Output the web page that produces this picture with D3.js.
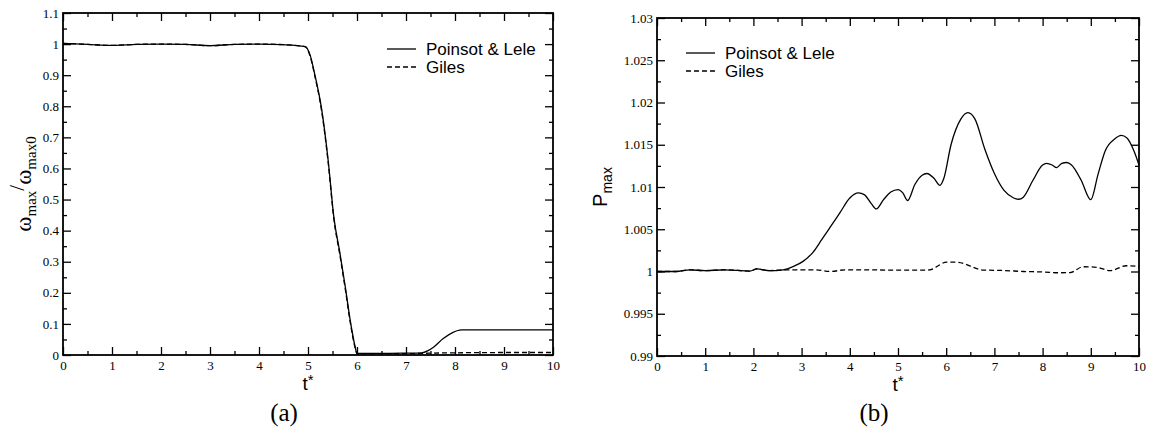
<!DOCTYPE html>
<html><head><meta charset="utf-8">
<script src="https://cdn.jsdelivr.net/npm/d3@7"></script>
<style>
html,body{margin:0;padding:0;background:#fff;}
svg{display:block;}
</style></head>
<body>
<svg id="chart" width="1152" height="439"></svg>
<script>
// ---------- data ----------
const seriesNames = ["Poinsot & Lele", "Giles"];

// Panel (a): omega_max / omega_max0 vs t*
const tA_PL = [0,0.5,1,1.5,2,2.5,3,3.5,4,4.5,4.94,5.04,5.14,5.28,5.41,5.53,5.65,5.76,5.86,5.96,6.0,6.5,7.0,7.32,7.45,7.56,7.76,7.96,8.13,9,10];
const wA_PL = [1.002,0.999,0.996,0.999,1.0,0.999,0.995,0.999,1.0,0.998,0.992,0.966,0.901,0.789,0.628,0.44,0.329,0.22,0.113,0.028,0.005,0.005,0.006,0.007,0.014,0.025,0.053,0.073,0.081,0.081,0.081];
const tA_G  = [0,0.5,1,1.5,2,2.5,3,3.5,4,4.5,4.94,5.04,5.14,5.28,5.41,5.53,5.65,5.76,5.86,5.96,6.0,6.5,7.0,7.5,8,9,10];
const wA_G  = [1.002,0.999,0.996,0.999,1.0,0.999,0.995,0.999,1.0,0.998,0.992,0.963,0.897,0.783,0.622,0.435,0.322,0.213,0.107,0.024,0.004,0.004,0.004,0.006,0.007,0.008,0.008];

// Panel (b): P_max vs t*
const tB_PL = [0,0.4,0.68,1.0,1.4,1.93,2.07,2.34,2.62,2.83,3.03,3.24,3.41,3.6,3.8,4.0,4.18,4.3,4.45,4.55,4.7,4.85,5.0,5.1,5.2,5.35,5.5,5.6,5.75,5.87,5.95,6.1,6.3,6.45,6.6,6.8,7.0,7.2,7.4,7.5,7.6,7.8,8.0,8.08,8.2,8.29,8.4,8.5,8.6,8.8,9.0,9.15,9.3,9.5,9.63,9.75,9.9,10];
const pB_PL = [1.0,1.0,1.0002,1.0001,1.0002,1.00005,1.0003,1.0001,1.0002,1.0006,1.0012,1.0023,1.0037,1.0053,1.007,1.0087,1.0093,1.0091,1.0080,1.0074,1.0085,1.0094,1.0097,1.0093,1.0084,1.0103,1.0114,1.0116,1.0110,1.0102,1.0110,1.0150,1.0180,1.0188,1.0180,1.0145,1.0116,1.0096,1.0087,1.00855,1.0088,1.0108,1.0126,1.0128,1.0126,1.0123,1.0128,1.0129,1.0126,1.0108,1.0085,1.0115,1.0143,1.0157,1.0161,1.0158,1.0142,1.0126];
const tB_G  = [0,0.4,0.68,1.0,1.4,1.93,2.07,2.34,2.62,3.0,3.3,3.6,3.9,4.3,4.83,5.3,5.58,5.66,6.01,6.22,6.77,7.2,7.6,8.0,8.36,8.57,8.84,9.12,9.4,9.74,10];
const pB_G  = [1.0,1.0,1.0002,1.0001,1.0002,1.00005,1.0003,1.0001,1.0002,1.0002,1.0002,1.0000,1.0002,1.0002,1.00017,1.00017,1.00017,1.0002,1.0011,1.0011,1.00017,1.00012,1.0,0.99995,0.99985,0.99987,1.00056,1.0005,1.0001,1.00068,1.0006];

// ticks
const xTicks = [0,1,2,3,4,5,6,7,8,9,10];
const yTicksA = [0,0.1,0.2,0.3,0.4,0.5,0.6,0.7,0.8,0.9,1,1.1];
const yTicksB = [0.99,0.995,1,1.005,1.01,1.015,1.02,1.025,1.03];
const panelLabels = ["(a)", "(b)"];

// ---------- drawing ----------
const svg = d3.select("#chart");

function midpoints(arr){ const m=[]; for(let i=0;i<arr.length-1;i++) m.push((arr[i]+arr[i+1])/2); return m; }

function drawPanel(cfg){
  const {left, right, top, bottom} = cfg.box;
  const x = d3.scaleLinear().domain([0,10]).range([left,right]);
  const y = d3.scaleLinear().domain(cfg.yDomain).range([bottom,top]);
  const g = svg.append("g");
  const fmt = d => String(+d.toFixed(4));
  const minorX = midpoints(xTicks), minorY = midpoints(cfg.yTicks);
  const tickFont = "'Liberation Serif','Times New Roman',serif";

  function styleAxis(sel){
    sel.select(".domain").remove();
    sel.selectAll(".tick line").attr("stroke","#000").attr("stroke-width",1.3);
    sel.selectAll("text").attr("font-family",tickFont).attr("font-size",13).attr("fill","#000");
  }
  // bottom
  g.append("g").attr("transform",`translate(0,${bottom})`)
    .call(d3.axisBottom(x).tickValues(xTicks).tickSize(-8).tickPadding(6).tickFormat(fmt)).call(styleAxis);
  g.append("g").attr("transform",`translate(0,${bottom})`)
    .call(d3.axisBottom(x).tickValues(minorX).tickSize(-4).tickFormat("")).call(styleAxis);
  // top
  g.append("g").attr("transform",`translate(0,${top})`)
    .call(d3.axisTop(x).tickValues(xTicks).tickSize(-8).tickFormat("")).call(styleAxis);
  g.append("g").attr("transform",`translate(0,${top})`)
    .call(d3.axisTop(x).tickValues(minorX).tickSize(-4).tickFormat("")).call(styleAxis);
  // left
  g.append("g").attr("transform",`translate(${left},0)`)
    .call(d3.axisLeft(y).tickValues(cfg.yTicks).tickSize(-8).tickPadding(4).tickFormat(fmt)).call(styleAxis);
  g.append("g").attr("transform",`translate(${left},0)`)
    .call(d3.axisLeft(y).tickValues(minorY).tickSize(-4).tickFormat("")).call(styleAxis);
  // right
  g.append("g").attr("transform",`translate(${right},0)`)
    .call(d3.axisRight(y).tickValues(cfg.yTicks).tickSize(-8).tickFormat("")).call(styleAxis);
  g.append("g").attr("transform",`translate(${right},0)`)
    .call(d3.axisRight(y).tickValues(minorY).tickSize(-4).tickFormat("")).call(styleAxis);

  // frame
  g.append("rect").attr("x",left).attr("y",top).attr("width",right-left).attr("height",bottom-top)
    .attr("fill","none").attr("stroke","#000").attr("stroke-width",1.8);

  // lines
  const line = d3.line().x(d=>x(d[0])).y(d=>y(d[1])).curve(d3.curveMonotoneX);
  cfg.series.forEach((s,i)=>{
    const pts = s.t.map((t,k)=>[t,s.v[k]]);
    g.append("path").datum(pts).attr("d",line).attr("fill","none")
      .attr("stroke","#000").attr("stroke-width",1.3)
      .attr("stroke-dasharray", i===1 ? "5,3" : null);
  });

  // legend
  const lg = g.append("g");
  seriesNames.forEach((name,i)=>{
    const yy = cfg.legend.y + i*18;
    lg.append("line").attr("x1",cfg.legend.x).attr("x2",cfg.legend.x+29).attr("y1",yy).attr("y2",yy)
      .attr("stroke","#000").attr("stroke-width",1.3).attr("stroke-dasharray", i===1 ? "5,3" : null);
    lg.append("text").attr("x",cfg.legend.x+39).attr("y",yy+6)
      .attr("font-family","'Liberation Sans',Arial,sans-serif").attr("font-size",17).text(name);
  });

  // x title
  const xt = g.append("text").attr("x",(left+right)/2).attr("y",bottom+35).attr("text-anchor","middle")
    .attr("font-family","'Liberation Sans',Arial,sans-serif").attr("font-size",19);
  xt.append("tspan").text("t");
  xt.append("tspan").attr("dy",-5).attr("font-size",15).text("*");

  // panel label
  g.append("text").attr("x",(left+right)/2 - 24).attr("y",421).attr("text-anchor","middle")
    .attr("font-family","'Liberation Serif','Times New Roman',serif").attr("font-size",25).text(cfg.label);

  return g;
}

const gA = drawPanel({
  box:{left:63,right:553,top:13,bottom:355},
  yDomain:[0,1.1], yTicks:yTicksA,
  series:[{t:tA_PL,v:wA_PL},{t:tA_G,v:wA_G}],
  legend:{x:387,y:49}, label:panelLabels[0]
});
const gB = drawPanel({
  box:{left:657,right:1139,top:18,bottom:356},
  yDomain:[0.99,1.03], yTicks:yTicksB,
  series:[{t:tB_PL,v:pB_PL},{t:tB_G,v:pB_G}],
  legend:{x:686,y:53}, label:panelLabels[1]
});

// y titles
const yA = gA.append("text").attr("transform","translate(31,184) rotate(-90)").attr("text-anchor","middle")
  .attr("font-family","'Liberation Serif','Times New Roman',serif").attr("font-size",23);
yA.append("tspan").text("ω");
yA.append("tspan").attr("font-size",15).attr("dy",5).text("max");
yA.append("tspan").attr("font-size",21).attr("dy",-12).text("/");
yA.append("tspan").attr("dy",7).text("ω");
yA.append("tspan").attr("font-size",15).attr("dy",5).text("max0");

const yB = gB.append("text").attr("transform","translate(607,187) rotate(-90)").attr("text-anchor","middle")
  .attr("font-family","'Liberation Sans',Arial,sans-serif").attr("font-size",20);
yB.append("tspan").text("P");
yB.append("tspan").attr("font-size",14).attr("dy",5).text("max");
</script>
</body></html>
